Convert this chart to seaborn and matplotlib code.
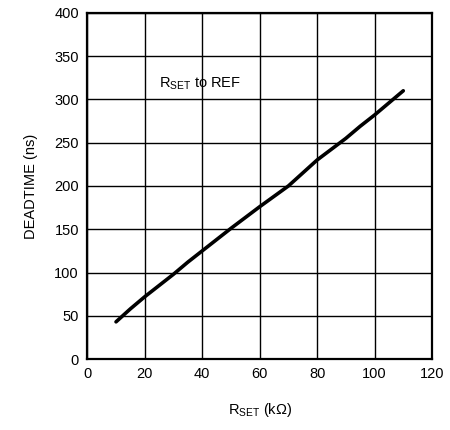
import matplotlib
matplotlib.use("Agg")
from matplotlib import pyplot as plt
import pandas as pd
import seaborn as sns

# deadtime vs RSET
rset_kohm = [10, 15, 20, 30, 35, 40, 50, 60, 70, 80, 90, 95, 100, 110]
deadtime_ns = [43, 58, 72, 98, 112, 125, 151, 176, 200, 230, 255, 269, 282, 310]

x_ticks = [0, 20, 40, 60, 80, 100, 120]
y_ticks = [0, 50, 100, 150, 200, 250, 300, 350, 400]

df = pd.DataFrame({"rset": rset_kohm, "deadtime": deadtime_ns})

sns.set_style("white")
plt.rcParams['font.family'] = ['Liberation Sans', 'DejaVu Sans']
plt.rcParams['mathtext.fontset'] = 'custom'
plt.rcParams['mathtext.rm'] = 'Liberation Sans'
plt.rcParams['mathtext.it'] = 'Liberation Sans'
plt.rcParams['text.color'] = 'black'
plt.rcParams['axes.labelcolor'] = 'black'

f, ax = plt.subplots(figsize=(4.5, 4.3), dpi=100)
f.subplots_adjust(left=0.194, right=0.96, top=0.97, bottom=0.165)

sns.lineplot(data=df, x="rset", y="deadtime", color="black", linewidth=2.6, ax=ax)

ax.set_xlim(0, 120)
ax.set_ylim(0, 400)
ax.set_xticks(x_ticks)
ax.set_yticks(y_ticks)
ax.grid(True, color="black", linewidth=1.0)
ax.tick_params(length=0, labelsize=10.5, pad=6, colors="black")
for s in ax.spines.values():
    s.set_color("black")
    s.set_linewidth(1.6)

ax.set_xlabel(r"R$_{\mathrm{SET}}$ (k$\Omega$)", fontsize=10.5, labelpad=14)
ax.set_ylabel("DEADTIME (ns)", fontsize=10.5, labelpad=12)

ax.text(25, 318, r"R$_{\mathrm{SET}}$ to REF", fontsize=10.5,
        ha="left", va="center")

f.savefig("out.png", dpi=100)
